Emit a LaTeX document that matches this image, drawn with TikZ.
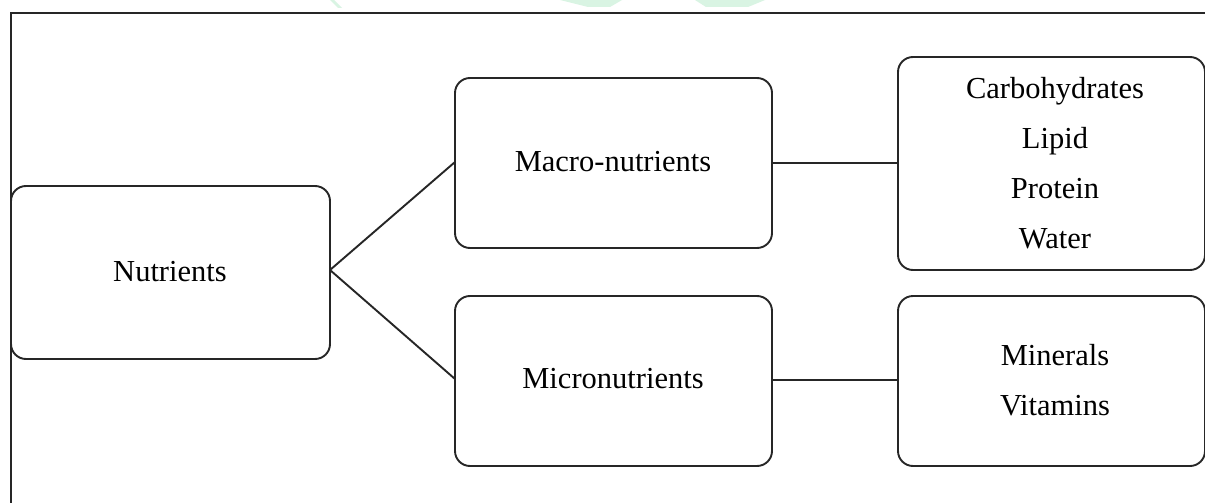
\documentclass[tikz,border=0pt]{standalone}
\usepackage{fontspec}
\setmainfont{Liberation Serif}
\begin{document}
\begin{tikzpicture}[x=1pt,y=-1pt,
  box/.style={draw=black!85,line width=1.9pt,rounded corners=15pt},
  conn/.style={draw=black!85,line width=1.9pt},
  lbl/.style={font=\fontsize{30.5}{50}\selectfont,align=center,inner sep=0pt},
  wm/.style={fill=green!45!teal!15!white,draw=none}]
\useasboundingbox (0,0) rectangle (1205,503);
\fill[white] (0,0) rectangle (1205,503);
% watermark fragments
\fill[wm] (330,0) -- (334,0) -- (342,8) -- (338,8) -- cycle;
\fill[wm] (560,0) -- (622,0) -- (610,7) -- (588,7) -- cycle;
\fill[wm] (695,0) -- (765,0) -- (748,7) -- (706,7) -- cycle;
% frame
\draw[line width=2pt,black!85] (11,510) -- (11,13) -- (1210,13);
% boxes
\draw[box] (11,186) rectangle (330,359);
\node[lbl] (nut) at (170,272) {Nutrients};
\coordinate (nutR) at (330,270);
\draw[box] (455,78) rectangle (772,248);
\node[lbl] (mac) at (613,162) {Macro-nutrients};
\coordinate (macL) at (455,162);
\coordinate (macR) at (772,163);
\draw[box] (455,296) rectangle (772,466);
\node[lbl] (mic) at (613,379) {Micronutrients};
\coordinate (micL) at (455,379);
\coordinate (micR) at (772,380);
\draw[box] (898,57) rectangle (1205,270);
\node[lbl] (macl) at (1055,163) {Carbohydrates\\Lipid\\Protein\\Water};
\coordinate (maclL) at (898,163);
\draw[box] (898,296) rectangle (1205,466);
\node[lbl] (micl) at (1055,380) {Minerals\\Vitamins};
\coordinate (miclL) at (898,380);
% connectors
\draw[conn] (nutR) -- (macL);
\draw[conn] (nutR) -- (micL);
\draw[conn] (macR) -- (maclL);
\draw[conn] (micR) -- (miclL);
\end{tikzpicture}
\end{document}
